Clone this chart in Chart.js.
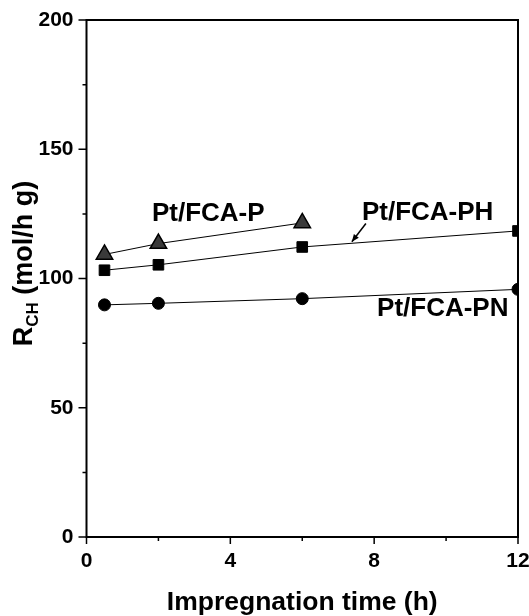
<!DOCTYPE html>
<html>
<head>
<meta charset="utf-8">
<script src="https://cdn.jsdelivr.net/npm/chart.js@4.4.0/dist/chart.umd.min.js"></script>
<style>
html,body{margin:0;padding:0;background:#fff;}
#wrap{width:529px;height:616px;position:relative;overflow:hidden;}
</style>
</head>
<body>
<div id="wrap"><canvas id="c" width="529" height="616"></canvas></div>
<script>
// Data
const timeP  = [0.5, 2, 6];
const rateP  = [109.3, 113.5, 121.5];
const timePH = [0.5, 2, 6, 12];
const ratePH = [103.2, 105.3, 112.2, 118.4];
const timePN = [0.5, 2, 6, 12];
const ratePN = [89.8, 90.4, 92.2, 95.8];

const xTicks = [0, 4, 8, 12];
const yTicks = [0, 50, 100, 150, 200];
const xMinor = [2, 6, 10];
const yMinor = [25, 75, 125, 175];

const seriesLabels = ['Pt/FCA-P', 'Pt/FCA-PH', 'Pt/FCA-PN'];
// annotation anchors in data units [x, y] (left, baseline)
const labelAnchors = [[1.82, 122.2], [7.66, 122.6], [8.08, 85.3]];
const arrowFrom = [7.77, 121.3];
const arrowTo = [7.38, 114.2];

const xTitle = 'Impregnation time (h)';
const yTitleMain = 'R';
const yTitleSub = 'CH';
const yTitleRest = ' (mol/h g)';

const FONT = "'Liberation Sans', Arial, sans-serif";

function pts(xs, ys){ return xs.map((x,i)=>({x:x, y:ys[i]})); }

const decor = {
  id: 'decor',
  afterDraw(chart){
    const ctx = chart.ctx, a = chart.chartArea;
    const xs = chart.scales.x, ys = chart.scales.y;
    ctx.save();
    ctx.strokeStyle = '#000';
    ctx.lineWidth = 2;
    ctx.strokeRect(a.left, a.top, a.right - a.left, a.bottom - a.top);
    ctx.lineWidth = 1.5;
    ctx.beginPath();
    xTicks.forEach(v => { const p = xs.getPixelForValue(v); ctx.moveTo(p, a.bottom); ctx.lineTo(p, a.bottom + 7); });
    xMinor.forEach(v => { const p = xs.getPixelForValue(v); ctx.moveTo(p, a.bottom); ctx.lineTo(p, a.bottom + 4); });
    yTicks.forEach(v => { const p = ys.getPixelForValue(v); ctx.moveTo(a.left, p); ctx.lineTo(a.left - 8, p); });
    yMinor.forEach(v => { const p = ys.getPixelForValue(v); ctx.moveTo(a.left, p); ctx.lineTo(a.left - 4, p); });
    ctx.stroke();

    // series labels
    ctx.fillStyle = '#000';
    ctx.font = 'bold 26px ' + FONT;
    ctx.textBaseline = 'alphabetic';
    ctx.textAlign = 'left';
    seriesLabels.forEach((t, i) => {
      ctx.fillText(t, xs.getPixelForValue(labelAnchors[i][0]), ys.getPixelForValue(labelAnchors[i][1]));
    });

    // arrow
    const x1 = xs.getPixelForValue(arrowFrom[0]), y1 = ys.getPixelForValue(arrowFrom[1]);
    const x2 = xs.getPixelForValue(arrowTo[0]), y2 = ys.getPixelForValue(arrowTo[1]);
    ctx.lineWidth = 1.5;
    ctx.beginPath(); ctx.moveTo(x1, y1); ctx.lineTo(x2, y2); ctx.stroke();
    const ang = Math.atan2(y2 - y1, x2 - x1);
    const L = 8, W = 0.4;
    ctx.beginPath();
    ctx.moveTo(x2, y2);
    ctx.lineTo(x2 - L*Math.cos(ang - W), y2 - L*Math.sin(ang - W));
    ctx.lineTo(x2 - L*Math.cos(ang + W), y2 - L*Math.sin(ang + W));
    ctx.closePath(); ctx.fill();

    // x title
    ctx.font = 'bold 26.5px ' + FONT;
    ctx.textAlign = 'center';
    ctx.textBaseline = 'alphabetic';
    ctx.fillText(xTitle, (a.left + a.right) / 2, 610);

    // y title rotated with subscript
    ctx.translate(32, 263.5);
    ctx.rotate(-Math.PI / 2);
    ctx.font = 'bold 27px ' + FONT;
    const wMain = ctx.measureText(yTitleMain).width;
    const wRest = ctx.measureText(yTitleRest).width;
    ctx.font = 'bold 17px ' + FONT;
    const wSub = ctx.measureText(yTitleSub).width;
    const total = wMain + wSub + wRest;
    let cx = -total / 2;
    ctx.textAlign = 'left';
    ctx.font = 'bold 27px ' + FONT;
    ctx.fillText(yTitleMain, cx, 0); cx += wMain;
    ctx.font = 'bold 17px ' + FONT;
    ctx.fillText(yTitleSub, cx, 6); cx += wSub;
    ctx.font = 'bold 27px ' + FONT;
    ctx.fillText(yTitleRest, cx, 0);
    ctx.restore();
  }
};

new Chart(document.getElementById('c'), {
  type: 'scatter',
  data: {
    datasets: [
      { label: seriesLabels[0], data: pts(timeP, rateP), showLine: true, borderColor: '#000', borderWidth: 1,
        pointStyle: 'triangle', pointRadius: 9.5, pointBackgroundColor: '#3a3a3a', pointBorderColor: '#000', pointBorderWidth: 1.5 },
      { label: seriesLabels[1], data: pts(timePH, ratePH), showLine: true, borderColor: '#000', borderWidth: 1,
        pointStyle: 'rect', pointRadius: 7.5, pointBackgroundColor: '#000', pointBorderColor: '#000', pointBorderWidth: 1 },
      { label: seriesLabels[2], data: pts(timePN, ratePN), showLine: true, borderColor: '#000', borderWidth: 1,
        pointStyle: 'circle', pointRadius: 6, pointBackgroundColor: '#000', pointBorderColor: '#000', pointBorderWidth: 1 }
    ]
  },
  options: {
    responsive: false,
    animation: false,
    devicePixelRatio: 1,
    layout: { padding: { left: 0, right: 11, top: 20, bottom: 0 } },
    plugins: { legend: { display: false }, tooltip: { enabled: false } },
    scales: {
      x: {
        type: 'linear', min: 0, max: 12,
        afterBuildTicks: s => { s.ticks = xTicks.map(v => ({ value: v })); },
        afterFit: s => { s.height = 79; s.paddingLeft = 0; s.paddingRight = 0; },
        grid: { display: false, drawTicks: false },
        border: { display: false },
        ticks: { color: '#000', padding: 12, maxRotation: 0, font: { family: FONT, weight: 'bold', size: 21 } }
      },
      y: {
        type: 'linear', min: 0, max: 200,
        afterBuildTicks: s => { s.ticks = yTicks.map(v => ({ value: v })); },
        afterFit: s => { s.width = 86.5; s.paddingTop = 0; s.paddingBottom = 0; },
        grid: { display: false, drawTicks: false },
        border: { display: false },
        ticks: { color: '#000', padding: 13, font: { family: FONT, weight: 'bold', size: 21 } }
      }
    }
  },
  plugins: [decor]
});
</script>
</body>
</html>
